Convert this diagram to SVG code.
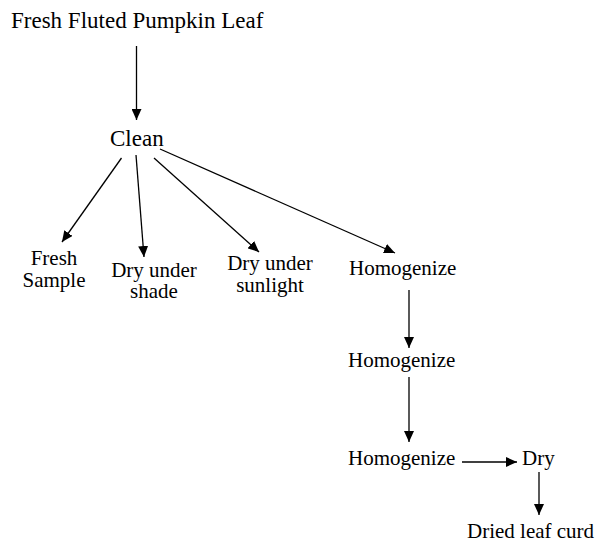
<svg xmlns="http://www.w3.org/2000/svg" width="595" height="541" viewBox="0 0 595 541">
<style>
text{font-family:"Liberation Serif","Times New Roman",serif;fill:#000;}
.t{font-size:21px;}
.big{font-size:23px;}
.c{stroke:#000;stroke-width:1.3;fill:none;marker-end:url(#ah);}
</style>
<defs>
<marker id="ah" markerUnits="userSpaceOnUse" markerWidth="12" markerHeight="10" refX="11" refY="5" orient="auto">
<path d="M0,0 L11,5 L0,10 Z" fill="#000"/>
</marker>
</defs>
<rect width="595" height="541" fill="#fff"/>
<g id="connectors">
<line class="c" x1="136.5" y1="46" x2="136.5" y2="120"/>
<line class="c" x1="121.5" y1="158" x2="62" y2="242"/>
<line class="c" x1="136" y1="155" x2="144" y2="257"/>
<line class="c" x1="154" y1="158" x2="259" y2="252"/>
<line class="c" x1="160" y1="149" x2="395" y2="253"/>
<line class="c" x1="409" y1="290" x2="409" y2="348"/>
<line class="c" x1="409" y1="377" x2="409" y2="442"/>
<line class="c" x1="462" y1="462" x2="517" y2="462"/>
<line class="c" x1="539" y1="472" x2="539" y2="515"/>
</g>
<g id="n-fresh-leaf"><text class="big" x="11" y="28">Fresh Fluted Pumpkin Leaf</text></g>
<g id="n-clean"><text class="big" x="110" y="146">Clean</text></g>
<g id="n-fresh-sample"><text class="t" text-anchor="middle" x="54" y="265">Fresh</text><text class="t" text-anchor="middle" x="54" y="287">Sample</text></g>
<g id="n-dry-shade"><text class="t" text-anchor="middle" x="154" y="277">Dry under</text><text class="t" text-anchor="middle" x="154" y="298">shade</text></g>
<g id="n-dry-sun"><text class="t" text-anchor="middle" x="270" y="270">Dry under</text><text class="t" text-anchor="middle" x="270" y="292">sunlight</text></g>
<g id="n-homog1"><text class="t" x="349" y="275">Homogenize</text></g>
<g id="n-homog2"><text class="t" x="348" y="367">Homogenize</text></g>
<g id="n-homog3"><text class="t" x="348" y="465">Homogenize</text></g>
<g id="n-dry"><text class="t" x="522" y="465">Dry</text></g>
<g id="n-dried"><text class="t" x="467" y="538">Dried leaf curd</text></g>
</svg>
